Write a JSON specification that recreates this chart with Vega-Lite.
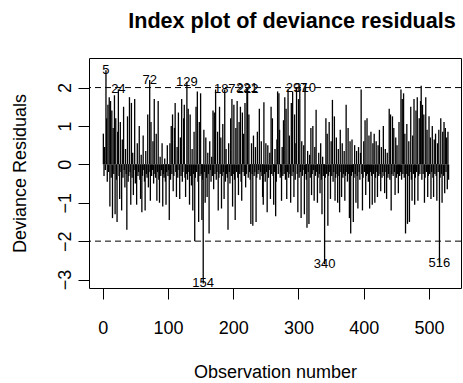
{
  "$schema": "https://vega.github.io/schema/vega-lite/v6.json",
  "autosize": "none",
  "width": 372,
  "height": 230,
  "padding": {"left": 89, "top": 58, "right": 2, "bottom": 95},
  "background": "white",
  "config": {
    "font": "Liberation Sans",
    "view": {"stroke": "black", "strokeWidth": 1},
    "axis": {"grid": false, "domain": false, "tickColor": "black", "tickSize": 11, "labelColor": "black", "titleColor": "black", "labelFont": "Liberation Sans", "titleFont": "Liberation Sans", "labelFontSize": 18, "titleFontSize": 18, "titleFontWeight": "normal"}
  },
  "title": {"text": "Index plot of deviance residuals", "font": "Liberation Sans", "fontSize": 21.6, "fontWeight": "bold", "color": "black", "anchor": "middle", "baseline": "alphabetic", "offset": 8, "dx": 17},
  "datasets": {
    "res": [
{"i":1,"r":0.80},{"i":2,"r":-0.30},{"i":3,"r":0.45},{"i":4,"r":-0.15},{"i":5,"r":2.45},{"i":6,"r":1.20},{"i":7,"r":-0.45},{"i":8,"r":1.55},{"i":9,"r":-0.20},{"i":10,"r":1.75},
{"i":11,"r":-1.10},{"i":12,"r":1.65},{"i":13,"r":-0.35},{"i":14,"r":1.40},{"i":15,"r":-1.40},{"i":16,"r":0.95},{"i":17,"r":-0.25},{"i":18,"r":1.80},{"i":19,"r":-1.30},{"i":20,"r":1.20},
{"i":21,"r":-0.40},{"i":22,"r":-1.50},{"i":23,"r":0.85},{"i":24,"r":1.95},{"i":25,"r":-0.30},{"i":26,"r":-0.90},{"i":27,"r":1.10},{"i":28,"r":-0.20},{"i":29,"r":-1.20},{"i":30,"r":0.65},
{"i":31,"r":-0.35},{"i":32,"r":1.50},{"i":33,"r":-0.15},{"i":34,"r":-0.60},{"i":35,"r":0.40},{"i":36,"r":-0.25},{"i":37,"r":-1.70},{"i":38,"r":1.25},{"i":39,"r":-0.45},{"i":40,"r":-0.30},
{"i":41,"r":1.75},{"i":42,"r":-0.20},{"i":43,"r":-1.05},{"i":44,"r":1.60},{"i":45,"r":-0.35},{"i":46,"r":0.30},{"i":47,"r":-0.80},{"i":48,"r":-0.15},{"i":49,"r":1.70},{"i":50,"r":-0.50},
{"i":51,"r":-0.25},{"i":52,"r":-1.05},{"i":53,"r":0.55},{"i":54,"r":-0.30},{"i":55,"r":-0.20},{"i":56,"r":1.00},{"i":57,"r":-0.40},{"i":58,"r":-0.90},{"i":59,"r":0.25},{"i":60,"r":-1.25},
{"i":61,"r":-0.30},{"i":62,"r":0.75},{"i":63,"r":-0.15},{"i":64,"r":-0.45},{"i":65,"r":-1.20},{"i":66,"r":0.35},{"i":67,"r":-0.25},{"i":68,"r":-0.35},{"i":69,"r":1.30},{"i":70,"r":-0.60},
{"i":71,"r":-0.20},{"i":72,"r":2.20},{"i":73,"r":-0.95},{"i":74,"r":1.10},{"i":75,"r":-0.30},{"i":76,"r":-0.15},{"i":77,"r":0.60},{"i":78,"r":-0.50},{"i":79,"r":1.70},{"i":80,"r":-0.25},
{"i":81,"r":-0.35},{"i":82,"r":0.80},{"i":83,"r":-0.95},{"i":84,"r":-0.20},{"i":85,"r":1.65},{"i":86,"r":-0.40},{"i":87,"r":-1.00},{"i":88,"r":0.20},{"i":89,"r":-0.30},{"i":90,"r":-0.15},
{"i":91,"r":0.55},{"i":92,"r":-1.10},{"i":93,"r":-0.25},{"i":94,"r":-0.35},{"i":95,"r":0.15},{"i":96,"r":-0.45},{"i":97,"r":-1.05},{"i":98,"r":-0.20},{"i":99,"r":0.50},{"i":100,"r":-0.30},
{"i":101,"r":-0.15},{"i":102,"r":-1.45},{"i":103,"r":0.55},{"i":104,"r":-0.40},{"i":105,"r":1.00},{"i":106,"r":-0.25},{"i":107,"r":1.30},{"i":108,"r":-0.70},{"i":109,"r":-0.30},{"i":110,"r":0.95},
{"i":111,"r":1.60},{"i":112,"r":-0.20},{"i":113,"r":-0.85},{"i":114,"r":0.45},{"i":115,"r":-0.35},{"i":116,"r":1.35},{"i":117,"r":-0.15},{"i":118,"r":-0.90},{"i":119,"r":0.70},{"i":120,"r":-0.30},
{"i":121,"r":1.70},{"i":122,"r":-0.45},{"i":123,"r":-0.20},{"i":124,"r":1.20},{"i":125,"r":1.55},{"i":126,"r":-0.35},{"i":127,"r":-0.85},{"i":128,"r":-0.25},{"i":129,"r":2.15},{"i":130,"r":-0.40},
{"i":131,"r":1.45},{"i":132,"r":-0.20},{"i":133,"r":-1.05},{"i":134,"r":1.30},{"i":135,"r":-0.30},{"i":136,"r":-0.55},{"i":137,"r":0.40},{"i":138,"r":-1.20},{"i":139,"r":-0.25},{"i":140,"r":0.85},
{"i":141,"r":-2.00},{"i":142,"r":-0.35},{"i":143,"r":1.50},{"i":144,"r":-0.20},{"i":145,"r":1.90},{"i":146,"r":-0.45},{"i":147,"r":-1.50},{"i":148,"r":1.10},{"i":149,"r":-0.30},{"i":150,"r":1.85},
{"i":151,"r":-0.25},{"i":152,"r":-1.45},{"i":153,"r":-0.40},{"i":154,"r":-3.10},{"i":155,"r":0.90},{"i":156,"r":-0.20},{"i":157,"r":-1.00},{"i":158,"r":0.70},{"i":159,"r":-0.35},{"i":160,"r":-0.85},
{"i":161,"r":0.30},{"i":162,"r":-0.25},{"i":163,"r":-1.80},{"i":164,"r":0.60},{"i":165,"r":-0.15},{"i":166,"r":-0.45},{"i":167,"r":0.20},{"i":168,"r":-0.30},{"i":169,"r":1.40},{"i":170,"r":-0.65},
{"i":171,"r":1.35},{"i":172,"r":-0.25},{"i":173,"r":1.95},{"i":174,"r":-0.40},{"i":175,"r":-0.20},{"i":176,"r":0.85},{"i":177,"r":-1.20},{"i":178,"r":-0.35},{"i":179,"r":1.50},{"i":180,"r":-0.25},
{"i":181,"r":0.70},{"i":182,"r":-1.15},{"i":183,"r":-0.30},{"i":184,"r":1.05},{"i":185,"r":-0.20},{"i":186,"r":-0.90},{"i":187,"r":1.95},{"i":188,"r":-0.45},{"i":189,"r":0.40},{"i":190,"r":-0.25},
{"i":191,"r":-0.35},{"i":192,"r":-1.70},{"i":193,"r":0.55},{"i":194,"r":-0.20},{"i":195,"r":-0.50},{"i":196,"r":1.20},{"i":197,"r":-0.30},{"i":198,"r":1.70},{"i":199,"r":-1.10},{"i":200,"r":-0.25},
{"i":201,"r":1.55},{"i":202,"r":-0.40},{"i":203,"r":-1.45},{"i":204,"r":0.95},{"i":205,"r":-0.20},{"i":206,"r":1.65},{"i":207,"r":-0.35},{"i":208,"r":-0.80},{"i":209,"r":1.10},{"i":210,"r":-0.25},
{"i":211,"r":1.50},{"i":212,"r":-0.45},{"i":213,"r":-0.95},{"i":214,"r":1.35},{"i":215,"r":-0.20},{"i":216,"r":0.80},{"i":217,"r":-0.30},{"i":218,"r":1.60},{"i":219,"r":-0.60},{"i":220,"r":-0.25},
{"i":221,"r":1.98},{"i":222,"r":1.97},{"i":223,"r":-0.35},{"i":224,"r":1.30},{"i":225,"r":-0.20},{"i":226,"r":-0.40},{"i":227,"r":-1.55},{"i":228,"r":0.55},{"i":229,"r":-0.25},{"i":230,"r":-1.60},
{"i":231,"r":0.75},{"i":232,"r":-0.30},{"i":233,"r":-0.20},{"i":234,"r":0.45},{"i":235,"r":-1.50},{"i":236,"r":-0.35},{"i":237,"r":0.85},{"i":238,"r":-0.25},{"i":239,"r":-0.15},{"i":240,"r":1.45},
{"i":241,"r":-0.40},{"i":242,"r":-0.20},{"i":243,"r":0.60},{"i":244,"r":-0.30},{"i":245,"r":-0.85},{"i":246,"r":-1.05},{"i":247,"r":1.62},{"i":248,"r":-0.25},{"i":249,"r":-0.45},{"i":250,"r":0.55},
{"i":251,"r":-0.20},{"i":252,"r":-1.25},{"i":253,"r":0.50},{"i":254,"r":-0.35},{"i":255,"r":-0.15},{"i":256,"r":0.30},{"i":257,"r":-0.90},{"i":258,"r":1.50},{"i":259,"r":-0.25},{"i":260,"r":1.20},
{"i":261,"r":-0.30},{"i":262,"r":-1.05},{"i":263,"r":-0.20},{"i":264,"r":0.40},{"i":265,"r":-1.35},{"i":266,"r":-0.45},{"i":267,"r":0.65},{"i":268,"r":1.90},{"i":269,"r":-0.25},{"i":270,"r":1.85},
{"i":271,"r":0.90},{"i":272,"r":-0.35},{"i":273,"r":-0.20},{"i":274,"r":-0.95},{"i":275,"r":0.45},{"i":276,"r":-0.30},{"i":277,"r":1.15},{"i":278,"r":-0.25},{"i":279,"r":1.75},{"i":280,"r":-0.40},
{"i":281,"r":1.45},{"i":282,"r":-0.90},{"i":283,"r":-0.20},{"i":284,"r":1.95},{"i":285,"r":-0.35},{"i":286,"r":0.75},{"i":287,"r":-0.25},{"i":288,"r":-1.00},{"i":289,"r":1.60},{"i":290,"r":-0.30},
{"i":291,"r":1.90},{"i":292,"r":-0.20},{"i":293,"r":-0.85},{"i":294,"r":1.30},{"i":295,"r":-0.40},{"i":296,"r":0.55},{"i":297,"r":1.98},{"i":298,"r":-0.25},{"i":299,"r":-1.25},{"i":300,"r":1.70},
{"i":301,"r":-0.35},{"i":302,"r":1.95},{"i":303,"r":-0.20},{"i":304,"r":-1.40},{"i":305,"r":0.60},{"i":306,"r":-0.30},{"i":307,"r":-0.15},{"i":308,"r":0.50},{"i":309,"r":-1.30},{"i":310,"r":2.00},
{"i":311,"r":-0.25},{"i":312,"r":-0.40},{"i":313,"r":-1.65},{"i":314,"r":0.35},{"i":315,"r":-0.20},{"i":316,"r":-1.55},{"i":317,"r":0.25},{"i":318,"r":-0.35},{"i":319,"r":0.95},{"i":320,"r":-0.80},
{"i":321,"r":-0.25},{"i":322,"r":1.00},{"i":323,"r":-0.15},{"i":324,"r":-0.95},{"i":325,"r":0.45},{"i":326,"r":-0.30},{"i":327,"r":1.42},{"i":328,"r":-0.20},{"i":329,"r":-1.00},{"i":330,"r":-0.35},
{"i":331,"r":0.30},{"i":332,"r":-0.25},{"i":333,"r":-0.75},{"i":334,"r":0.55},{"i":335,"r":-0.40},{"i":336,"r":-1.30},{"i":337,"r":0.20},{"i":338,"r":-0.30},{"i":339,"r":-0.20},{"i":340,"r":-2.60},
{"i":341,"r":-0.35},{"i":342,"r":1.20},{"i":343,"r":-0.25},{"i":344,"r":0.80},{"i":345,"r":-1.60},{"i":346,"r":-0.30},{"i":347,"r":1.10},{"i":348,"r":-0.20},{"i":349,"r":-0.90},{"i":350,"r":0.60},
{"i":351,"r":-0.30},{"i":352,"r":1.68},{"i":353,"r":-0.45},{"i":354,"r":-0.20},{"i":355,"r":1.25},{"i":356,"r":-0.95},{"i":357,"r":-0.35},{"i":358,"r":0.70},{"i":359,"r":-0.25},{"i":360,"r":-1.00},
{"i":361,"r":0.40},{"i":362,"r":-0.30},{"i":363,"r":-1.25},{"i":364,"r":0.90},{"i":365,"r":-0.20},{"i":366,"r":-0.85},{"i":367,"r":0.55},{"i":368,"r":-0.35},{"i":369,"r":-0.25},{"i":370,"r":0.35},
{"i":371,"r":-0.95},{"i":372,"r":-0.30},{"i":373,"r":1.55},{"i":374,"r":-0.20},{"i":375,"r":-0.45},{"i":376,"r":0.95},{"i":377,"r":-0.25},{"i":378,"r":-1.40},{"i":379,"r":0.60},{"i":380,"r":-1.80},
{"i":381,"r":-0.30},{"i":382,"r":0.65},{"i":383,"r":-0.20},{"i":384,"r":-1.50},{"i":385,"r":-0.35},{"i":386,"r":0.50},{"i":387,"r":-0.25},{"i":388,"r":-1.00},{"i":389,"r":0.35},{"i":390,"r":-0.30},
{"i":391,"r":-1.15},{"i":392,"r":0.45},{"i":393,"r":-0.20},{"i":394,"r":-0.40},{"i":395,"r":0.30},{"i":396,"r":1.95},{"i":397,"r":-0.25},{"i":398,"r":-1.20},{"i":399,"r":-0.35},{"i":400,"r":0.60},
{"i":401,"r":-0.20},{"i":402,"r":1.15},{"i":403,"r":-0.80},{"i":404,"r":-0.30},{"i":405,"r":1.20},{"i":406,"r":-0.25},{"i":407,"r":-0.45},{"i":408,"r":0.75},{"i":409,"r":-1.15},{"i":410,"r":-0.20},
{"i":411,"r":0.85},{"i":412,"r":-0.30},{"i":413,"r":-1.05},{"i":414,"r":0.55},{"i":415,"r":-0.25},{"i":416,"r":0.80},{"i":417,"r":-1.00},{"i":418,"r":-0.35},{"i":419,"r":0.60},{"i":420,"r":-0.20},
{"i":421,"r":-0.85},{"i":422,"r":0.50},{"i":423,"r":-0.30},{"i":424,"r":0.90},{"i":425,"r":-0.25},{"i":426,"r":-0.70},{"i":427,"r":0.45},{"i":428,"r":-0.35},{"i":429,"r":-0.20},{"i":430,"r":1.00},
{"i":431,"r":-0.30},{"i":432,"r":-0.75},{"i":433,"r":0.40},{"i":434,"r":-0.20},{"i":435,"r":-0.90},{"i":436,"r":0.30},{"i":437,"r":-0.35},{"i":438,"r":-0.25},{"i":439,"r":1.45},{"i":440,"r":-0.40},
{"i":441,"r":1.30},{"i":442,"r":-1.20},{"i":443,"r":-0.25},{"i":444,"r":1.25},{"i":445,"r":-0.30},{"i":446,"r":0.95},{"i":447,"r":-0.20},{"i":448,"r":-0.80},{"i":449,"r":0.70},{"i":450,"r":-0.35},
{"i":451,"r":0.50},{"i":452,"r":-0.25},{"i":453,"r":-0.75},{"i":454,"r":1.10},{"i":455,"r":-0.30},{"i":456,"r":-0.20},{"i":457,"r":1.95},{"i":458,"r":-0.40},{"i":459,"r":1.70},{"i":460,"r":-0.25},
{"i":461,"r":1.85},{"i":462,"r":-0.35},{"i":463,"r":0.80},{"i":464,"r":-1.80},{"i":465,"r":-0.25},{"i":466,"r":1.05},{"i":467,"r":-1.55},{"i":468,"r":-0.30},{"i":469,"r":0.60},{"i":470,"r":-1.50},
{"i":471,"r":-0.20},{"i":472,"r":1.50},{"i":473,"r":-0.40},{"i":474,"r":-0.95},{"i":475,"r":0.75},{"i":476,"r":-0.25},{"i":477,"r":1.70},{"i":478,"r":-1.05},{"i":479,"r":-0.35},{"i":480,"r":1.40},
{"i":481,"r":-0.20},{"i":482,"r":1.75},{"i":483,"r":-0.95},{"i":484,"r":-0.30},{"i":485,"r":1.20},{"i":486,"r":-0.25},{"i":487,"r":1.65},{"i":488,"r":2.05},{"i":489,"r":-0.40},{"i":490,"r":1.55},
{"i":491,"r":-0.25},{"i":492,"r":1.30},{"i":493,"r":-1.00},{"i":494,"r":-0.35},{"i":495,"r":1.75},{"i":496,"r":-0.20},{"i":497,"r":0.90},{"i":498,"r":-0.85},{"i":499,"r":-0.30},{"i":500,"r":1.25},
{"i":501,"r":-0.25},{"i":502,"r":0.70},{"i":503,"r":-0.90},{"i":504,"r":-0.20},{"i":505,"r":1.00},{"i":506,"r":-0.35},{"i":507,"r":-0.85},{"i":508,"r":0.65},{"i":509,"r":-0.25},{"i":510,"r":0.80},
{"i":511,"r":-0.30},{"i":512,"r":-0.95},{"i":513,"r":0.55},{"i":514,"r":-0.20},{"i":515,"r":0.90},{"i":516,"r":-2.57},{"i":517,"r":-0.35},{"i":518,"r":1.20},{"i":519,"r":-0.25},{"i":520,"r":-1.00},
{"i":521,"r":0.85},{"i":522,"r":-0.30},{"i":523,"r":1.10},{"i":524,"r":-0.75},{"i":525,"r":0.95},{"i":526,"r":-0.20},{"i":527,"r":0.70},{"i":528,"r":-0.65},{"i":529,"r":0.85},{"i":530,"r":-0.40}
    ],
    "labs": [
      {"i":5,"r":2.45,"lab":"5"},{"i":24,"r":1.95,"lab":"24"},{"i":72,"r":2.20,"lab":"72"},{"i":129,"r":2.15,"lab":"129"},
      {"i":187,"r":1.95,"lab":"187"},{"i":221,"r":1.98,"lab":"221"},{"i":222,"r":1.97,"lab":"222"},{"i":297,"r":1.98,"lab":"297"},
      {"i":310,"r":2.00,"lab":"310"},{"i":154,"r":-3.10,"lab":"154"},{"i":340,"r":-2.60,"lab":"340"},{"i":516,"r":-2.57,"lab":"516"}
    ],
    "refs": [{"h":2},{"h":-2}]
  },
  "layer": [
    {
      "data": {"name": "res"},
      "mark": {"type": "rule", "color": "black", "strokeWidth": 1.3},
      "encoding": {
        "x": {"field": "i", "type": "quantitative", "scale": {"domain": [-21, 549], "nice": false, "zero": false},
              "axis": {"values": [0,100,200,300,400,500], "title": "Observation number", "labelPadding": 34, "labelBaseline": "alphabetic", "titleBaseline": "alphabetic", "titleY": 89.5}},
        "y": {"field": "r", "type": "quantitative", "scale": {"domain": [-3.22, 2.77], "nice": false, "zero": false},
              "axis": {"values": [-3,-2,-1,0,1,2], "title": "Deviance Residuals", "labelAngle": -90, "labelAlign": "center", "labelBaseline": "alphabetic", "labelPadding": 8, "titleAngle": -90, "titleBaseline": "alphabetic", "titleX": -64, "titleY": 115}},
        "y2": {"datum": 0}
      }
    },
    {
      "data": {"name": "refs"},
      "mark": {"type": "rule", "color": "black", "strokeWidth": 1, "strokeDash": [6, 4]},
      "encoding": {"y": {"field": "h", "type": "quantitative"}}
    },
    {
      "data": {"name": "labs"},
      "mark": {"type": "text", "font": "Liberation Sans", "fontSize": 13, "color": "black", "align": "center", "baseline": "middle", "clip": true},
      "encoding": {
        "x": {"field": "i", "type": "quantitative"},
        "y": {"field": "r", "type": "quantitative"},
        "text": {"field": "lab"}
      }
    }
  ]
}
